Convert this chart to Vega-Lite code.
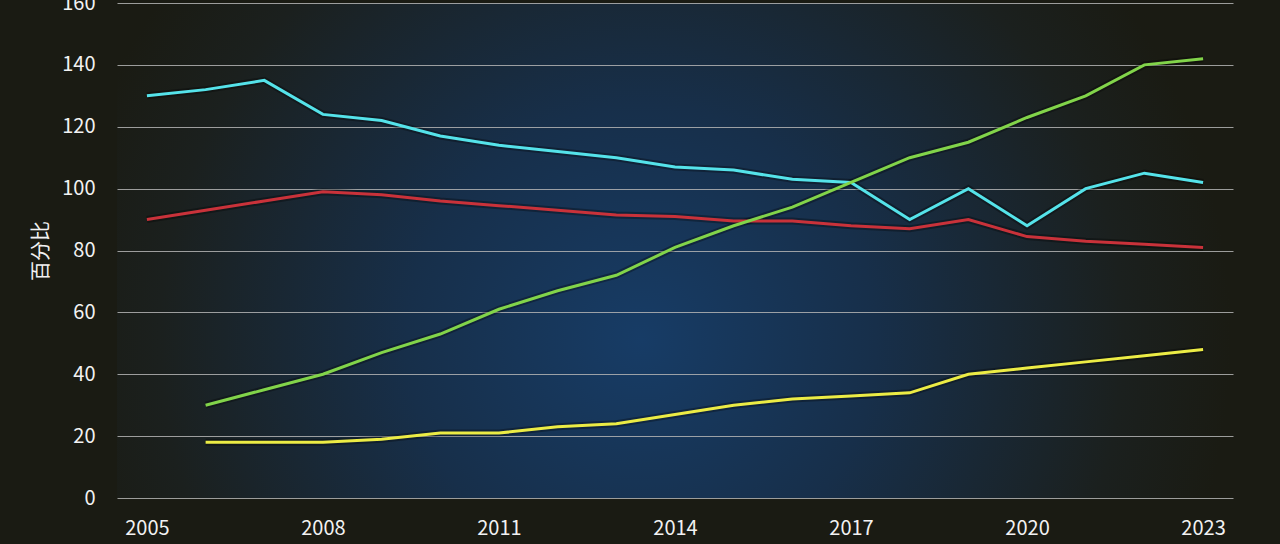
{
  "$schema": "https://vega.github.io/schema/vega-lite/v6.json",
  "width": 1116,
  "height": 495,
  "autosize": "none",
  "padding": {"left": 117, "top": 3, "right": 47, "bottom": 46},
  "background": "#1a1b13",
  "config": {
    "font": "Noto Sans CJK SC",
    "view": {
      "stroke": null,
      "fill": {
        "gradient": "radial",
        "x1": 0.47, "y1": 0.58, "r1": 0,
        "x2": 0.47, "y2": 0.58, "r2": 0.6,
        "stops": [
          {"offset": 0, "color": "#173c66"},
          {"offset": 0.35, "color": "#172f4a"},
          {"offset": 0.72, "color": "#1b201e"},
          {"offset": 0.88, "color": "#1a1b13"},
          {"offset": 1, "color": "#1a1b13"}
        ]
      }
    },
    "axis": {
      "labelColor": "#f2f2f2",
      "titleColor": "#f2f2f2",
      "labelFontSize": 20,
      "titleFontSize": 20,
      "titleFontWeight": "normal",
      "ticks": false,
      "domain": false
    }
  },
  "data": {
    "values": [
      {"year": 2005, "series": "A", "value": 130},
      {"year": 2006, "series": "A", "value": 132},
      {"year": 2007, "series": "A", "value": 135},
      {"year": 2008, "series": "A", "value": 124},
      {"year": 2009, "series": "A", "value": 122},
      {"year": 2010, "series": "A", "value": 117},
      {"year": 2011, "series": "A", "value": 114},
      {"year": 2012, "series": "A", "value": 112},
      {"year": 2013, "series": "A", "value": 110},
      {"year": 2014, "series": "A", "value": 107},
      {"year": 2015, "series": "A", "value": 106},
      {"year": 2016, "series": "A", "value": 103},
      {"year": 2017, "series": "A", "value": 102},
      {"year": 2018, "series": "A", "value": 90},
      {"year": 2019, "series": "A", "value": 100},
      {"year": 2020, "series": "A", "value": 88},
      {"year": 2021, "series": "A", "value": 100},
      {"year": 2022, "series": "A", "value": 105},
      {"year": 2023, "series": "A", "value": 102},
      {"year": 2005, "series": "B", "value": 90},
      {"year": 2006, "series": "B", "value": 93},
      {"year": 2007, "series": "B", "value": 96},
      {"year": 2008, "series": "B", "value": 99},
      {"year": 2009, "series": "B", "value": 98},
      {"year": 2010, "series": "B", "value": 96},
      {"year": 2011, "series": "B", "value": 94.5},
      {"year": 2012, "series": "B", "value": 93},
      {"year": 2013, "series": "B", "value": 91.5},
      {"year": 2014, "series": "B", "value": 91},
      {"year": 2015, "series": "B", "value": 89.5},
      {"year": 2016, "series": "B", "value": 89.5},
      {"year": 2017, "series": "B", "value": 88},
      {"year": 2018, "series": "B", "value": 87},
      {"year": 2019, "series": "B", "value": 90},
      {"year": 2020, "series": "B", "value": 84.5},
      {"year": 2021, "series": "B", "value": 83},
      {"year": 2022, "series": "B", "value": 82},
      {"year": 2023, "series": "B", "value": 81},
      {"year": 2006, "series": "C", "value": 30},
      {"year": 2007, "series": "C", "value": 35},
      {"year": 2008, "series": "C", "value": 40},
      {"year": 2009, "series": "C", "value": 47},
      {"year": 2010, "series": "C", "value": 53},
      {"year": 2011, "series": "C", "value": 61},
      {"year": 2012, "series": "C", "value": 67},
      {"year": 2013, "series": "C", "value": 72},
      {"year": 2014, "series": "C", "value": 81},
      {"year": 2015, "series": "C", "value": 88},
      {"year": 2016, "series": "C", "value": 94},
      {"year": 2017, "series": "C", "value": 102},
      {"year": 2018, "series": "C", "value": 110},
      {"year": 2019, "series": "C", "value": 115},
      {"year": 2020, "series": "C", "value": 123},
      {"year": 2021, "series": "C", "value": 130},
      {"year": 2022, "series": "C", "value": 140},
      {"year": 2023, "series": "C", "value": 142},
      {"year": 2006, "series": "D", "value": 18},
      {"year": 2007, "series": "D", "value": 18},
      {"year": 2008, "series": "D", "value": 18},
      {"year": 2009, "series": "D", "value": 19},
      {"year": 2010, "series": "D", "value": 21},
      {"year": 2011, "series": "D", "value": 21},
      {"year": 2012, "series": "D", "value": 23},
      {"year": 2013, "series": "D", "value": 24},
      {"year": 2014, "series": "D", "value": 27},
      {"year": 2015, "series": "D", "value": 30},
      {"year": 2016, "series": "D", "value": 32},
      {"year": 2017, "series": "D", "value": 33},
      {"year": 2018, "series": "D", "value": 34},
      {"year": 2019, "series": "D", "value": 40},
      {"year": 2020, "series": "D", "value": 42},
      {"year": 2021, "series": "D", "value": 44},
      {"year": 2022, "series": "D", "value": 46},
      {"year": 2023, "series": "D", "value": 48}
    ]
  },
  "encoding": {
    "x": {
      "field": "year",
      "type": "quantitative",
      "title": null,
      "scale": {"domain": [2004.49, 2023.51], "nice": false, "zero": false},
      "axis": {
        "values": [2005, 2008, 2011, 2014, 2017, 2020, 2023],
        "format": "d",
        "grid": false,
        "labelPadding": 20,
        "labelFlush": false
      }
    },
    "y": {
      "field": "value",
      "type": "quantitative",
      "title": "百分比",
      "scale": {"domain": [0, 160], "nice": false},
      "axis": {
        "values": [0, 20, 40, 60, 80, 100, 120, 140, 160],
        "gridColor": "#b4b4b4",
        "gridWidth": 1,
        "gridOpacity": 0.85,
        "labelPadding": 22,
        "titlePadding": 10
      }
    },
    "detail": {"field": "series"}
  },
  "layer": [
    {
      "mark": {"type": "line", "strokeWidth": 7, "color": "#000000", "opacity": 0.3}
    },
    {
      "mark": {"type": "line", "strokeWidth": 3},
      "encoding": {
        "color": {
          "field": "series",
          "type": "nominal",
          "legend": null,
          "scale": {
            "domain": ["A", "B", "C", "D"],
            "range": ["#55e3ea", "#c9323a", "#82d44a", "#ecec45"]
          }
        }
      }
    }
  ]
}
